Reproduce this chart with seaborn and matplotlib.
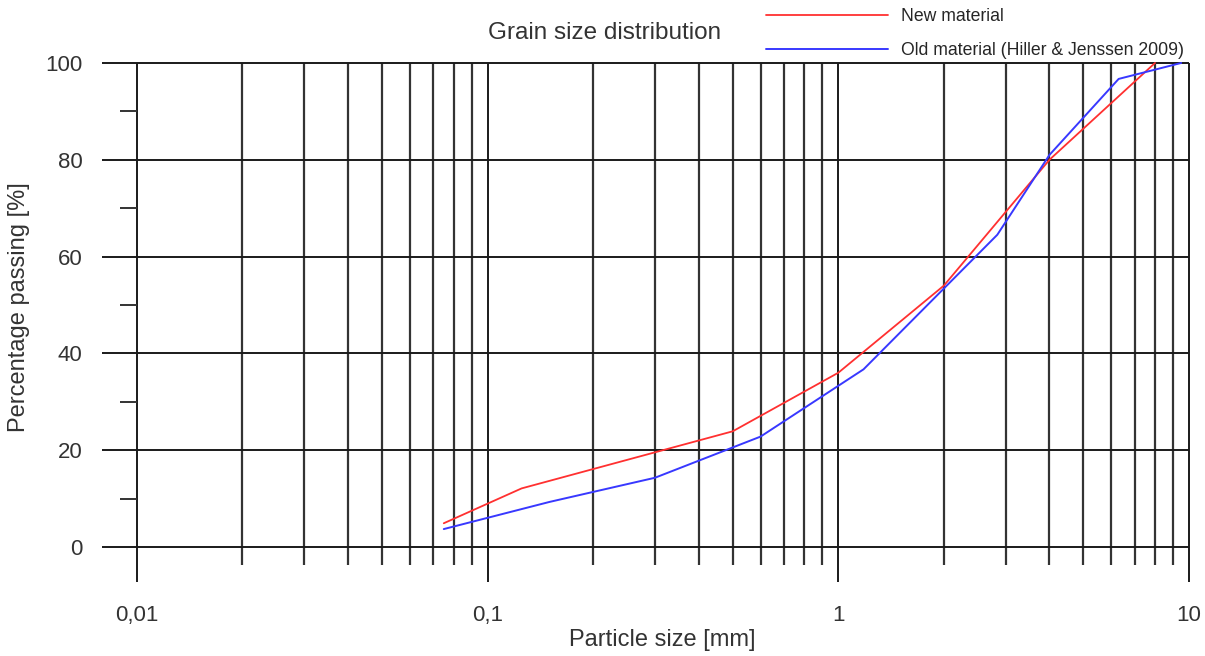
import numpy as np
import pandas as pd
import matplotlib
matplotlib.use('Agg')
import matplotlib.pyplot as plt
from matplotlib.ticker import NullLocator
import seaborn as sns

# sieve sizes [mm] and percentage passing
new_size = [0.075, 0.125, 0.5, 1.0, 2.0, 4.0, 8.0]
new_pass = [4.9, 12.1, 23.9, 36.0, 54.0, 80.0, 100.0]
old_size = [0.075, 0.15, 0.3, 0.6, 1.18, 2.84, 4.0, 6.3, 9.5]
old_pass = [3.7, 9.3, 14.3, 22.8, 36.7, 64.5, 81.0, 96.7, 100.0]

x_ticks = [0.01, 0.1, 1, 10]
x_tick_labels = ['0,01', '0,1', '1', '10']
y_ticks = [0, 20, 40, 60, 80, 100]
y_minor = [10, 30, 50, 70, 90]

sns.set_style('white')
plt.rcParams['font.family'] = ['Liberation Sans', 'DejaVu Sans']

fig = plt.figure(figsize=(12.05, 6.56), dpi=100)
ax = fig.add_axes([0.0846, 0.1113, 0.9071, 0.7957])

x_lo, x_hi = 0.00795, 10.4
ax.set_xscale('log')
ax.set_xlim(x_lo, x_hi)
ax.set_ylim(-7.44, 100.4)

# grid drawn by hand: long lines at decades, short ones in between
minor_x = [m * d for d in (0.01, 0.1, 1) for m in range(2, 10)]
ax.vlines(x_ticks, -7.2, 100, color='#1a1a1a', lw=1.4, zorder=1, clip_on=False)
ax.vlines(minor_x, -3.7, 100, color='#333333', lw=1.6, zorder=1, clip_on=False)
ax.hlines(y_ticks, x_lo, 10, color='#1a1a1a', lw=1.4, zorder=1, clip_on=False)
ax.hlines(y_minor, 0.00894, 0.01, color='#333333', lw=1.4, zorder=1, clip_on=False)

df_new = pd.DataFrame({'size': new_size, 'passing': new_pass})
df_old = pd.DataFrame({'size': old_size, 'passing': old_pass})
sns.lineplot(data=df_new, x='size', y='passing', ax=ax, color='#ff3030', lw=1.3,
             label='New material', zorder=3)
sns.lineplot(data=df_old, x='size', y='passing', ax=ax, color='#3838ff', lw=1.4,
             label='Old material (Hiller & Jenssen 2009)', zorder=3)

for s in ax.spines.values():
    s.set_visible(False)

ax.set_xticks(x_ticks, labels=x_tick_labels)
ax.xaxis.set_minor_locator(NullLocator())
ax.set_yticks(y_ticks)
ax.tick_params(axis='y', length=0, pad=14, labelsize=16, labelcolor='#333333')
ax.tick_params(axis='x', length=0, pad=16, labelsize=16, labelcolor='#333333')

ax.set_xlabel('Particle size [mm]', fontsize=17, color='#333333')
ax.xaxis.set_label_coords((662 - 102) / 1093, -0.088)
ax.set_ylabel('Percentage passing [%]', fontsize=17, color='#333333')
ax.yaxis.set_label_coords(-0.066, 0.529)

fig.text(605 / 1205, 1 - 33 / 656, 'Grain size distribution', fontsize=17.5,
         color='#333333', ha='center', va='center')

ax.legend(loc='upper left', bbox_to_anchor=(766 / 1205, 1 - 8 / 656),
          bbox_transform=fig.transFigure, frameon=False, handlelength=6.9,
          handletextpad=0.74, labelspacing=0.95, borderpad=0, borderaxespad=0,
          prop={'size': 12.7})

fig.savefig('out.png', dpi=100)
